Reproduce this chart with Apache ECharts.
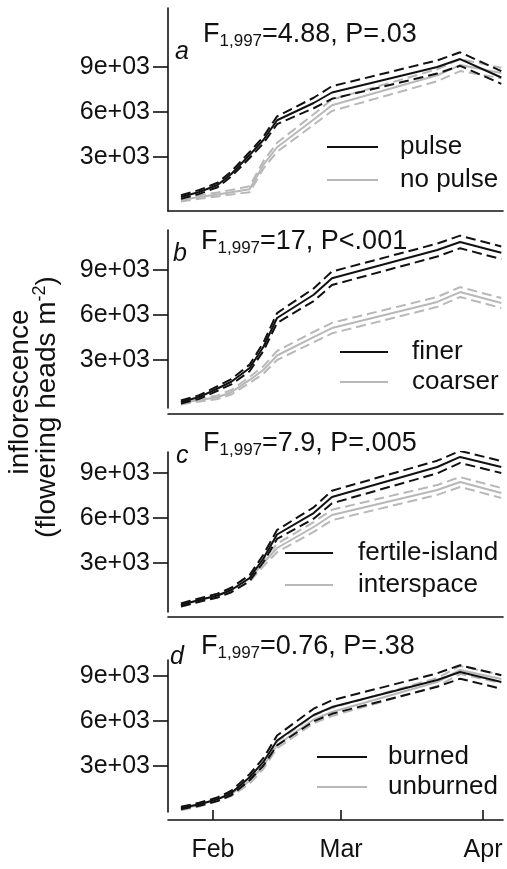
<!DOCTYPE html>
<html><head><meta charset="utf-8">
<script src="https://cdn.jsdelivr.net/npm/echarts@6/dist/echarts.min.js"></script>
<style>html,body{margin:0;padding:0;background:#fff}#c{width:507px;height:869px}</style>
</head><body><div id="c"></div>
<script>
// sampling dates (day of year)
const days = [24, 28, 32, 35, 39, 42, 45, 53, 57, 80, 85, 94];

// panel a
const pulseMean   = [330, 670, 1130, 1870, 3130, 4130, 5450, 6600, 7300, 9000, 9530, 8300];
const pulseHW     = [120, 130, 150, 170, 200, 220, 260, 350, 420, 440, 450, 420];
const noPulseMean = [130, 330, 500, 650, 850, 2470, 3650, 5500, 6450, 8450, 9130, 8600];
const noPulseHW   = [100, 120, 130, 150, 200, 250, 300, 350, 380, 400, 400, 350];
// panel b
const finerMean   = [200, 530, 1100, 1550, 2470, 3870, 5800, 7350, 8450, 10330, 10870, 10150];
const finerHW     = [100, 120, 150, 180, 220, 280, 330, 420, 450, 430, 420, 420];
const coarserMean = [130, 330, 520, 850, 1670, 2330, 3300, 4530, 5130, 6870, 7530, 6800];
const coarserHW   = [90, 100, 120, 150, 200, 250, 300, 350, 350, 330, 330, 330];
// panel c
const fertileMean = [200, 530, 830, 1200, 2000, 3300, 4900, 6330, 7400, 9400, 10070, 9400];
const fertileHW   = [100, 110, 130, 150, 200, 250, 300, 380, 420, 420, 400, 400];
const interMean   = [200, 530, 830, 1200, 1950, 3000, 4000, 5400, 6200, 7870, 8400, 7670];
const interHW     = [100, 110, 130, 150, 200, 220, 280, 330, 350, 330, 330, 330];
// panel d
const burnedMean   = [200, 450, 780, 1200, 2250, 3270, 4700, 6400, 6930, 8730, 9270, 8600];
const burnedHW     = [80, 100, 120, 150, 200, 250, 330, 420, 450, 450, 450, 450];
const unburnedMean = [130, 400, 800, 1130, 2000, 3000, 4400, 6100, 6600, 8600, 9400, 8800];
const unburnedHW   = [80, 100, 120, 140, 180, 200, 220, 250, 270, 270, 270, 270];

// ticks
const yTickValues = [3000, 6000, 9000];
const yTickLabels = ['3e+03', '6e+03', '9e+03'];
const xTickDays   = [31, 59, 90];
const xTickLabels = ['Feb', 'Mar', 'Apr'];

// panel texts
const panelLetters = ['a', 'b', 'c', 'd'];
const statValues = ['=4.88, P=.03', '=17, P<.001', '=7.9, P=.005', '=0.76, P=.38'];
const groupNames = [['pulse', 'no pulse'], ['finer', 'coarser'], ['fertile-island', 'interspace'], ['burned', 'unburned']];

const FONT = 'Liberation Sans, Arial, Helvetica, sans-serif';
const BLACK = '#111111', GRAY = '#b8b8b8';

const layout = [
  {top: 8,   height: 203, ymin: -600, ymax: 12933, xoff: 0, lg: {left: 327, top: 132, w: 51, gap: 3, pad: 17}, letter: {left: 175, top: 37}, stat: {left: 203, top: 20}},
  {top: 230, height: 178, ymin: -200, ymax: 11667, xoff: 6, lg: {left: 340, top: 337, w: 48, gap: 0, pad: 19}, letter: {left: 173, top: 239}, stat: {left: 201, top: 227}},
  {top: 452, height: 160, ymin: -267, ymax: 10400, xoff: 5, lg: {left: 285, top: 538, w: 48, gap: 2, pad: 20}, letter: {left: 176, top: 441}, stat: {left: 203, top: 429}},
  {top: 660, height: 152, ymin: -67,  ymax: 10067, xoff: 8, lg: {left: 317, top: 742, w: 50, gap: 0, pad: 16}, letter: {left: 170, top: 642}, stat: {left: 201, top: 632}}
];
const panelData = [
  [pulseMean, pulseHW, noPulseMean, noPulseHW],
  [finerMean, finerHW, coarserMean, coarserHW],
  [fertileMean, fertileHW, interMean, interHW],
  [burnedMean, burnedHW, unburnedMean, unburnedHW]
];

const grid = [], xAxis = [], yAxis = [], series = [], legend = [], title = [];
const XMIN = 21.17, XMAX = 94.37;

layout.forEach((L, p) => {
  grid.push({left: 168, width: 335, top: L.top, height: L.height, containLabel: false});
  const last = p === 3;
  xAxis.push({
    type: 'value', gridIndex: p, min: XMIN, max: XMAX, offset: L.xoff,
    axisLine: {show: true, onZero: false, lineStyle: {color: BLACK, width: 1.6}},
    axisTick: {show: last, inside: true, length: 10, customValues: xTickDays, lineStyle: {color: BLACK, width: 1.6}},
    axisLabel: {show: last, customValues: xTickDays, margin: 18, fontSize: 25, fontFamily: FONT, color: BLACK,
      formatter: v => xTickLabels[xTickDays.indexOf(Math.round(v))] || ''},
    splitLine: {show: false}
  });
  yAxis.push({
    type: 'value', gridIndex: p, min: L.ymin, max: L.ymax,
    axisLine: {show: true, onZero: false, lineStyle: {color: BLACK, width: 1.6}},
    axisTick: {show: true, inside: false, length: 15, customValues: yTickValues, lineStyle: {color: BLACK, width: 1.6}},
    axisLabel: {show: true, customValues: yTickValues, margin: 18, fontSize: 25, fontFamily: FONT, color: BLACK,
      formatter: v => yTickLabels[yTickValues.indexOf(Math.round(v))] || ''},
    splitLine: {show: false}
  });
  const [m1, h1, m2, h2] = panelData[p];
  const groups = [
    {mean: m2, hw: h2, color: GRAY, name: groupNames[p][1]},
    {mean: m1, hw: h1, color: BLACK, name: groupNames[p][0]}
  ];
  groups.forEach(g => {
    const mk = (arr) => days.map((d, i) => [d, arr[i]]);
    const hi = g.mean.map((v, i) => v + g.hw[i]);
    const lo = g.mean.map((v, i) => v - g.hw[i]);
    [hi, lo].forEach((arr, k) => series.push({
      type: 'line', name: g.name + (k ? ' lo' : ' hi'), xAxisIndex: p, yAxisIndex: p,
      data: mk(arr), symbol: 'none', silent: true, animation: false,
      lineStyle: {color: g.color, width: 2, type: [10, 5]}, itemStyle: {color: g.color}
    }));
    series.push({
      type: 'line', name: g.name, xAxisIndex: p, yAxisIndex: p,
      data: mk(g.mean), symbol: 'none', silent: true, animation: false,
      lineStyle: {color: g.color, width: 2}, itemStyle: {color: g.color}
    });
  });
  legend.push({
    data: groupNames[p], left: L.lg.left, top: L.lg.top, orient: 'vertical',
    icon: 'rect', itemWidth: L.lg.w, itemHeight: 2, itemGap: L.lg.gap, selectedMode: false,
    padding: 0,
    textStyle: {fontSize: 26, lineHeight: 30, fontFamily: FONT, color: BLACK, padding: [0, 0, 0, L.lg.pad]}
  });
  title.push({
    text: panelLetters[p], left: L.letter.left, top: L.letter.top, padding: 0,
    textStyle: {fontSize: 25, fontStyle: 'italic', fontWeight: 'normal', fontFamily: FONT, color: BLACK, lineHeight: 30}
  });
  title.push({
    text: '{m|F}{s|1,997}{m|' + statValues[p] + '}', left: L.stat.left, top: L.stat.top, padding: 0,
    textStyle: {
      fontFamily: FONT, color: BLACK, fontWeight: 'normal',
      rich: {
        m: {fontSize: 27, lineHeight: 30, fontFamily: FONT, color: BLACK, fontWeight: 'normal'},
        s: {fontSize: 17, lineHeight: 12, verticalAlign: 'bottom', fontFamily: FONT, color: BLACK, fontWeight: 'normal'}
      }
    }
  });
});

const chart = echarts.init(document.getElementById('c'), null, {renderer: 'canvas'});
chart.setOption({
  animation: false,
  backgroundColor: '#ffffff',
  grid, xAxis, yAxis, series, legend, title,
  graphic: [
    {type: 'text', x: 20, y: 392, rotation: Math.PI / 2,
      style: {text: 'inflorescence', fontSize: 28, fontFamily: FONT, fill: BLACK, align: 'center', verticalAlign: 'middle'}},
    {type: 'text', x: 47, y: 407, rotation: Math.PI / 2,
      style: {text: '{m|(flowering heads m}{s|-2}{m|)}', fontFamily: FONT, fill: BLACK, align: 'center', verticalAlign: 'middle',
        rich: {m: {fontSize: 28, lineHeight: 32, fontFamily: FONT, fill: BLACK},
               s: {fontSize: 18, lineHeight: 12, verticalAlign: 'top', fontFamily: FONT, fill: BLACK}}}}
  ]
});
</script></body></html>
